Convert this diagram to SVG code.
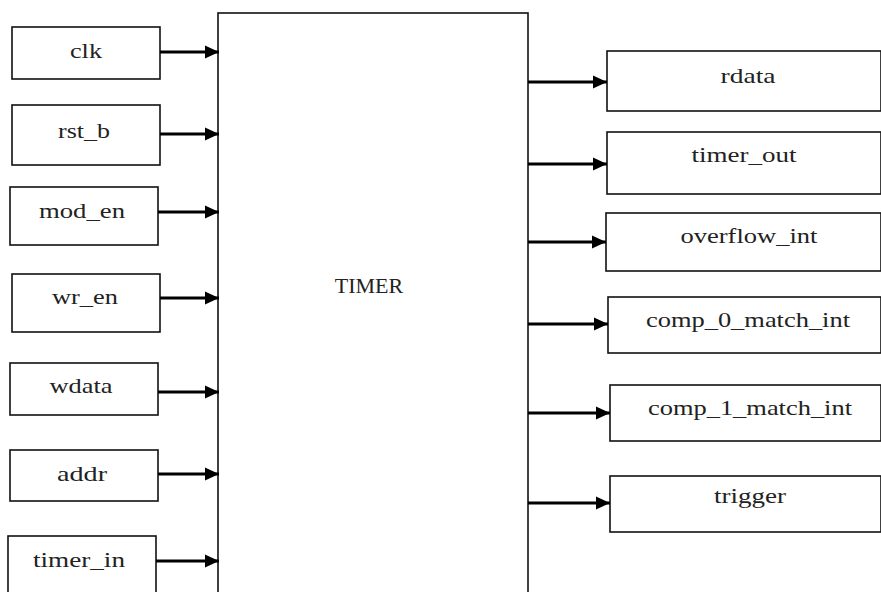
<svg xmlns="http://www.w3.org/2000/svg" width="881" height="592" viewBox="0 0 881 592">
<defs>
<marker id="ah" markerUnits="userSpaceOnUse" markerWidth="15" markerHeight="14" refX="14" refY="7" orient="auto">
<path d="M0,0.5 L14,7 L0,13.5 z" fill="#000"/>
</marker>
<style>
.box{fill:#fff;stroke:#111;stroke-width:1.6}
.lbl{font-family:"Liberation Serif","Times New Roman",serif;font-size:22px;fill:#222;text-anchor:middle}
.wire{stroke:#000;stroke-width:3;fill:none;marker-end:url(#ah)}
</style>
</defs>
<rect width="881" height="592" fill="#fff"/>
<g id="timer"><rect class="box" x="218" y="13" width="310" height="600"/><text class="lbl" x="369" y="293">TIMER</text></g>
<g id="clk"><rect class="box" x="12" y="27" width="148" height="52"/><text class="lbl" x="86" y="58" textLength="32" lengthAdjust="spacingAndGlyphs">clk</text></g>
<g id="rst_b"><rect class="box" x="12" y="105" width="148" height="60"/><text class="lbl" x="84" y="138" textLength="52" lengthAdjust="spacingAndGlyphs">rst_b</text></g>
<g id="mod_en"><rect class="box" x="10" y="187" width="148" height="58"/><text class="lbl" x="82" y="218" textLength="86" lengthAdjust="spacingAndGlyphs">mod_en</text></g>
<g id="wr_en"><rect class="box" x="12" y="274" width="148" height="58"/><text class="lbl" x="85" y="304" textLength="66" lengthAdjust="spacingAndGlyphs">wr_en</text></g>
<g id="wdata"><rect class="box" x="10" y="363" width="148" height="52"/><text class="lbl" x="81" y="393" textLength="63" lengthAdjust="spacingAndGlyphs">wdata</text></g>
<g id="addr"><rect class="box" x="10" y="450" width="148" height="51"/><text class="lbl" x="82" y="481" textLength="50" lengthAdjust="spacingAndGlyphs">addr</text></g>
<g id="timer_in"><rect class="box" x="8" y="536" width="148" height="70"/><text class="lbl" x="79" y="567" textLength="92" lengthAdjust="spacingAndGlyphs">timer_in</text></g>
<g id="rdata"><rect class="box" x="607" y="51" width="274" height="60"/><text class="lbl" x="748" y="83" textLength="55" lengthAdjust="spacingAndGlyphs">rdata</text></g>
<g id="timer_out"><rect class="box" x="607" y="132" width="274" height="62"/><text class="lbl" x="744" y="162" textLength="105" lengthAdjust="spacingAndGlyphs">timer_out</text></g>
<g id="overflow_int"><rect class="box" x="606" y="213" width="275" height="58"/><text class="lbl" x="749" y="243" textLength="137" lengthAdjust="spacingAndGlyphs">overflow_int</text></g>
<g id="comp_0_match_int"><rect class="box" x="608" y="297" width="273" height="56"/><text class="lbl" x="748" y="327" textLength="204" lengthAdjust="spacingAndGlyphs">comp_0_match_int</text></g>
<g id="comp_1_match_int"><rect class="box" x="610" y="385" width="271" height="56"/><text class="lbl" x="750" y="415" textLength="204" lengthAdjust="spacingAndGlyphs">comp_1_match_int</text></g>
<g id="trigger"><rect class="box" x="610" y="476" width="271" height="56"/><text class="lbl" x="750" y="503" textLength="72" lengthAdjust="spacingAndGlyphs">trigger</text></g>
<g id="connectors">
<line class="wire" x1="160" y1="52" x2="219" y2="52"/>
<line class="wire" x1="160" y1="134" x2="219" y2="134"/>
<line class="wire" x1="158" y1="212" x2="219" y2="212"/>
<line class="wire" x1="160" y1="298" x2="219" y2="298"/>
<line class="wire" x1="158" y1="392" x2="219" y2="392"/>
<line class="wire" x1="158" y1="474" x2="219" y2="474"/>
<line class="wire" x1="156" y1="561" x2="219" y2="561"/>
<line class="wire" x1="528" y1="82" x2="607" y2="82"/>
<line class="wire" x1="528" y1="164" x2="607" y2="164"/>
<line class="wire" x1="528" y1="242" x2="606" y2="242"/>
<line class="wire" x1="528" y1="324" x2="608" y2="324"/>
<line class="wire" x1="528" y1="413" x2="610" y2="413"/>
<line class="wire" x1="528" y1="503" x2="610" y2="503"/>
</g>
</svg>
